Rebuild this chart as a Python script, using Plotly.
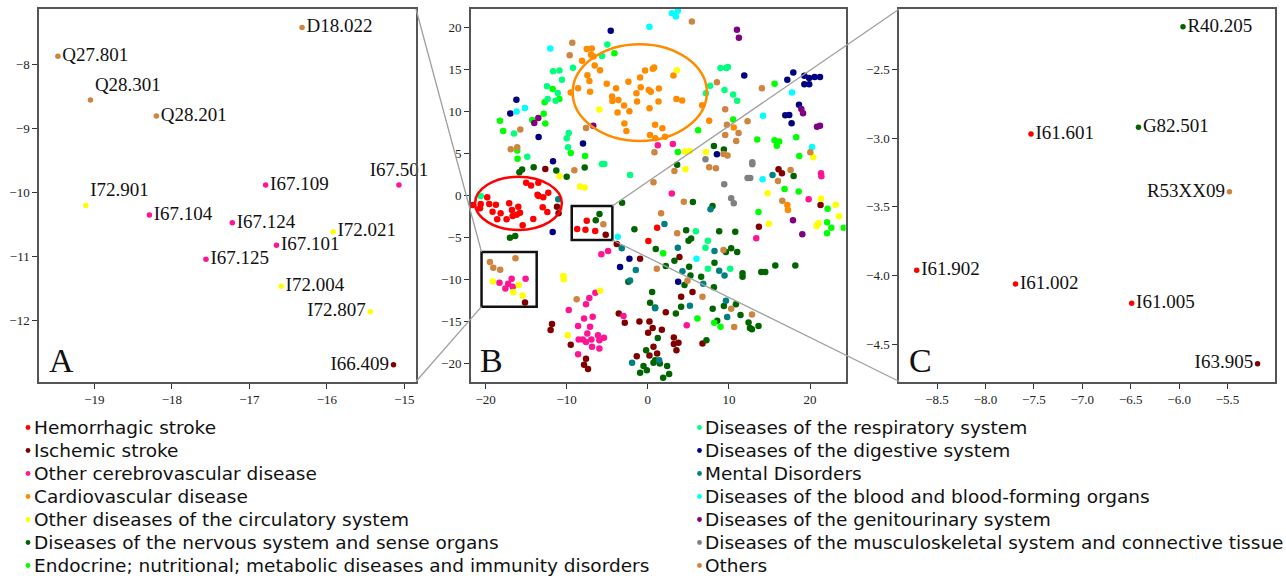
import plotly.graph_objects as go

W, H = 1286, 578

CATEGORIES = [
    "Hemorrhagic stroke",
    "Ischemic stroke",
    "Other cerebrovascular disease",
    "Cardiovascular disease",
    "Other diseases of the circulatory system",
    "Diseases of the nervous system and sense organs",
    "Endocrine; nutritional; metabolic diseases and immunity disorders",
    "Diseases of the respiratory system",
    "Diseases of the digestive system",
    "Mental Disorders",
    "Diseases of the blood and blood-forming organs",
    "Diseases of the genitourinary system",
    "Diseases of the musculoskeletal system and connective tissue",
    "Others",
]
COLORS = ["#ff0000", "#800000", "#ff1493", "#ff8c00", "#ffff00", "#006400", "#00ff00",
          "#00ff7f", "#000080", "#008080", "#00ffff", "#800080", "#808080", "#cd853f"]

# ---------------- Panel A (zoom of lower-left box) ----------------
A_CODES = ["D18.022", "Q27.801", "Q28.301", "Q28.201", "I67.109", "I67.501", "I72.901", "I67.104",
           "I67.124", "I72.021", "I67.101", "I67.125", "I72.004", "I72.807", "I66.409"]
A_X = [-16.32, -19.47, -19.05, -18.20, -16.79, -15.07, -19.11, -18.29,
       -17.22, -15.92, -16.65, -17.56, -16.59, -15.44, -15.14]
A_Y = [-7.43, -7.88, -8.56, -8.81, -9.89, -9.89, -10.21, -10.36,
       -10.48, -10.62, -10.83, -11.05, -11.47, -11.87, -12.70]
A_CAT = [13, 13, 13, 13, 2, 2, 4, 2, 2, 4, 2, 2, 4, 4, 1]
A_TEXTPOS = ["middle right", "middle right", "top right", "middle right", "middle right", "top center",
             "top right", "middle right", "middle right", "middle right", "middle right", "middle right",
             "middle right", "middle left", "middle left"]

# ---------------- Panel C (zoom of small box) ----------------
C_CODES = ["R40.205", "I61.601", "G82.501", "R53XX09", "I61.902", "I61.002", "I61.005", "I63.905"]
C_X = [-5.96, -7.53, -6.42, -5.48, -8.71, -7.69, -6.49, -5.19]
C_Y = [-2.19, -2.97, -2.92, -3.39, -3.96, -4.06, -4.20, -4.64]
C_CAT = [5, 0, 5, 13, 0, 0, 0, 1]
C_TEXTPOS = ["middle right", "middle right", "middle right", "middle left",
             "middle right", "middle right", "middle right", "middle left"]

# ---------------- Panel B (full embedding; A and C points are included too) ----------------
B_HEMORRHAGIC = [(-19.8, -0.19), (-20.6, -0.99), (-19.55, -0.99), (-18.73, -1.07), (-17.09, -0.9), (-15.97, -1.31),
                 (-20.69, -1.5), (-19.14, -1.9), (-18.15, -2.1), (-16.75, -1.7), (-16.17, -2.26), (-15.76, -2.02),
                 (-17.41, -2.81), (-18.57, -2.81), (-16.67, -2.42), (-14.12, -2.77), (-15.43, -3.52), (-13.46, -0.04),
                 (-12.89, -0.19), (-12.27, 0.36), (-12.96, -1.38), (-12.39, -1.94), (-21.6, -1.1), (-15.0, 1.55),
                 (-13.5, 1.55), (-13.6, 0.1), (-14.4, 1.2), (1.15, -3.81), (0.07, -5.4)]
B_ISCHEMIC = [(-12.64, 3.18), (-11.2, -1.31), (-11.0, -2.1), (-3.83, -5.75), (-0.95, -7.5), (-11.81, -15.27),
              (-11.98, -15.99), (-9.5, -17.74), (-7.62, -19.4), (-7.86, -20.1), (-7.37, -20.6), (-3.58, -14.0),
              (-2.84, -15.1), (-1.03, -14.95), (0.2, -14.95), (0.6, -15.75), (0.04, -16.3), (0.7, -17.98),
              (0.2, -19.0), (-1.36, -19.1), (16.12, 3.14), (16.54, 2.67), (13.7, -3.69), (21.3, -1.1),
              (5.51, -11.46), (4.11, -12.02), (2.22, -13.85), (1.73, -15.95), (3.21, -16.86), (3.78, -17.5),
              (3.21, -17.65), (3.53, -18.37), (1.15, -18.77), (6.74, -17.57), (3.9, -7.3)]
B_CEREBRO = [(1.23, 6.0), (3.09, 6.15), (21.36, 2.67), (21.4, 2.31), (2.96, 0.27), (-5.73, -6.98), (-4.9, -6.58),
             (-6.47, -11.55), (-7.21, -12.18), (-7.62, -12.9), (-9.75, -13.6), (-6.8, -14.4), (-7.86, -14.6),
             (-8.6, -15.5), (-7.12, -15.6), (-7.46, -16.4), (-8.02, -17.1), (-8.52, -17.1), (-6.14, -16.6),
             (-5.4, -16.9), (-6.96, -17.1), (-5.97, -17.18), (-6.88, -17.98), (-5.97, -18.17), (-7.62, -17.4),
             (-8.6, -18.85), (-3.0, -14.32), (13.37, -5.07), (19.83, -0.43), (4.8, -15.4)]
B_CARDIO = [(-7.53, 17.43), (-6.91, 17.5), (-8.11, 16.04), (-7.0, 16.75), (-6.71, 16.55), (-6.55, 15.48),
            (-5.89, 14.93), (-7.45, 14.33), (-7.2, 13.65), (-8.6, 12.78), (-7.12, 12.35), (-9.5, 12.27),
            (-5.06, 13.3), (-3.91, 12.78), (-4.41, 11.79), (-4.37, 11.27), (-3.63, 11.39), (-2.93, 10.71),
            (-2.39, 13.54), (-2.27, 10.04), (-3.73, 9.88), (-1.4, 12.19), (-1.32, 11.19), (-0.95, 14.05),
            (-0.87, 12.9), (-0.33, 14.88), (0.62, 15.08), (0.78, 15.24), (0.12, 12.58), (0.37, 12.35),
            (0.21, 10.4), (1.36, 12.74), (1.32, 11.19), (3.16, 14.29), (3.53, 11.51), (4.23, 11.31),
            (-2.89, 8.57), (-2.64, 7.7), (0.9, 8.42), (1.8, 8.02), (0.27, 7.23), (0.93, 6.83), (2.12, 7.0),
            (6.7, 10.76), (7.57, 8.9), (10.6, 8.1), (17.2, -1.1), (17.28, -1.7)]
B_CIRCULATORY = [(-5.97, 10.24), (-10.9, 2.3), (-8.36, 1.1), (-7.78, 0.97), (3.58, 14.93), (4.6, 5.24), (5.19, 5.3),
                 (7.16, 5.2), (4.64, 3.14), (20.4, 4.57), (14.77, 0.28), (14.94, -3.33), (21.36, -0.36),
                 (23.16, -1.07), (23.58, -2.45), (20.81, -3.6), (21.02, -3.29), (-5.89, -11.31), (-10.42, -9.56),
                 (-10.35, -9.95), (-9.88, -16.6)]
B_NERVOUS = [(-15.5, 3.1), (-15.83, 2.78), (-14.07, 3.38), (-11.28, 2.98), (-10.0, 2.26), (-7.78, 3.35), (8.15, 5.92),
             (9.38, 5.48), (3.62, 3.69), (17.98, 2.35), (-17.0, -5.0), (-16.35, -4.8), (-3.17, -0.83), (-1.65, -4.0),
             (-2.4, -10.24), (0.53, -11.46), (0.28, -12.74), (0.9, -13.29), (-0.21, -18.37), (-0.53, -20.27),
             (0.7, -19.88), (-0.12, -20.75), (-0.95, -21.07), (5.56, -0.75), (7.98, -1.23), (4.73, -4.12),
             (5.02, -5.36), (5.34, -5.08), (8.8, -4.24), (10.78, -4.28), (0.98, -6.35), (10.28, -6.26),
             (11.02, -6.7), (9.63, -6.7), (3.28, -7.74), (8.22, -7.98), (2.22, -8.37), (5.1, -8.45),
             (11.68, -9.24), (11.68, -9.64), (13.99, -9.08), (14.48, -9.08), (15.72, -8.29), (18.19, -8.29),
             (5.26, -9.48), (6.58, -9.64), (4.52, -10.63), (8.15, -10.9), (4.11, -13.2), (3.46, -14.0),
             (8.0, -13.45), (9.38, -13.13), (10.86, -12.9), (11.43, -14.2), (8.56, -14.88), (12.42, -15.07),
             (12.59, -15.75), (12.84, -15.9), (13.65, -15.5), (7.23, -17.18), (1.23, -16.94), (0.9, -19.56),
             (1.48, -19.96), (2.38, -20.27), (2.63, -21.2), (1.89, -21.66)]
B_ENDOCRINE = [(-4.12, 16.95), (-11.73, 12.7), (-10.9, 11.5), (-12.72, 11.1), (-12.84, 9.73), (-12.64, 8.57),
               (-18.23, 8.9), (-17.83, 7.7), (-16.1, 5.36), (-16.06, 4.4), (-9.5, 5.08), (-7.74, 4.73),
               (-14.25, 9.0), (6.21, 7.78), (10.53, 9.05), (3.7, 5.2), (15.63, 13.3), (13.49, 6.67), (15.63, 6.6),
               (16.2, 6.44), (15.9, 5.93), (18.3, 6.95), (18.68, 4.73), (16.86, 0.8), (18.6, 0.5), (13.65, -1.94),
               (22.17, -1.55), (22.1, -3.17), (22.63, -3.81), (22.1, -4.48), (24.15, -3.81), (1.89, -6.86),
               (6.12, -14.6), (8.19, -15.1), (8.96, -15.6)]
B_RESPIRATORY = [(-4.99, 17.98), (-5.64, 16.6), (-9.22, 15.2), (-11.69, 14.8), (-10.9, 14.9), (-10.58, 13.8),
                 (-12.43, 13.0), (-11.1, 12.2), (-12.35, 11.5), (-11.36, 11.3), (-16.5, 7.4), (-14.86, 4.64),
                 (-10.0, 6.83), (-9.75, 7.46), (-9.84, 5.76), (-5.36, 3.77), (-5.65, 3.77), (-2.19, 2.46),
                 (8.96, 15.17), (9.67, 15.17), (9.88, 15.3), (7.69, 13.06), (7.16, 12.19), (9.46, 12.58),
                 (10.53, 12.02), (11.02, 11.3), (-20.6, -0.04), (5.93, -4.24), (7.41, -5.36), (7.11, -6.19),
                 (7.41, -8.69), (10.16, -8.69)]
B_DIGESTIVE = [(-4.57, 19.6), (-16.2, 11.4), (-16.96, 9.76), (-13.46, 6.99), (-7.99, 6.19), (-11.69, 4.09),
               (11.89, 14.29), (17.2, 13.8), (17.94, 14.64), (19.3, 14.25), (19.9, 14.0), (20.57, 14.1),
               (21.23, 14.1), (19.3, 13.26), (19.9, 13.26), (18.64, 10.8), (16.95, 9.57), (17.44, 9.6),
               (17.73, 8.62), (8.52, 4.93), (-11.73, -4.32), (-2.27, -7.5), (-3.42, -8.49), (3.74, -10.24)]
B_MENTAL = [(-11.04, -0.43), (-3.21, -6.26), (-1.48, -8.85), (-2.19, -10.1), (-1.94, -19.88), (15.38, 2.46),
            (7.73, -1.62), (2.05, -3.37), (3.7, -6.19), (8.22, -6.58), (4.27, -9.0), (8.8, -8.93), (9.46, -9.48),
            (6.83, -10.47), (0.9, -13.4), (5.19, -13.1), (9.63, -12.5), (9.79, -14.44), (1.4, -19.56)]
B_BLOOD = [(0.2, 20.1), (-12.02, 17.5), (-15.15, 10.44), (-16.18, 10.0), (2.96, 21.7), (3.46, 21.3), (3.7, 22.0),
           (17.78, 12.26), (14.2, 9.49), (20.25, 5.8), (14.15, 1.95), (-3.7, -4.88), (6.0, -7.5)]
B_GENITO = [(-13.5, 9.25), (-14.0, 8.65), (-6.72, 8.33), (10.99, 19.73), (11.23, 18.77), (18.93, 10.32),
            (19.14, 9.8), (20.86, 8.21), (21.23, 8.33), (17.9, -2.93), (19.05, -4.6)]
B_MUSCULO = [(7.11, 4.33), (12.88, 3.97), (12.88, 3.74), (12.3, 2.1), (12.63, 2.1), (9.42, 1.35),
             (10.28, -0.31), (10.6, -0.9)]
B_OTHERS = [(-9.31, 18.2), (-9.63, 16.7), (-15.72, 7.86), (-16.1, 5.76), (-16.9, 5.53), (-9.06, 3.02), (-7.62, 8.06),
            (0.82, 5.16), (0.7, 1.6), (5.43, 20.7), (8.52, 13.5), (14.07, 12.78), (9.54, 10.28), (9.75, 8.42),
            (11.19, 7.46), (9.54, 7.23), (10.9, 6.51), (12.3, 8.86), (9.33, 4.96), (9.83, 4.77), (7.57, 3.38),
            (8.4, 3.26), (3.28, 2.94), (20.04, 5.16), (17.6, 3.06), (16.05, 1.75), (-8.77, -12.33), (1.11, -8.69),
            (16.58, -0.6), (4.44, -0.71), (1.64, -2.1), (3.62, -4.48), (9.33, -6.46), (4.89, -10.12),
            (6.74, -12.02), (10.28, -13.45), (12.84, -14.12), (10.65, -15.63)]
B_EXTRA = [B_HEMORRHAGIC, B_ISCHEMIC, B_CEREBRO, B_CARDIO, B_CIRCULATORY, B_NERVOUS, B_ENDOCRINE,
           B_RESPIRATORY, B_DIGESTIVE, B_MENTAL, B_BLOOD, B_GENITO, B_MUSCULO, B_OTHERS]

# zoom boxes / highlight ellipses drawn in panel B (data units)
BOX_A = (-20.5, -13.7, -13.2, -6.7)
BOX_C = (-9.38, -4.37, -5.27, -1.23)
ELLIPSE_RED = (-21.3, -10.6, -4.08, 2.26)
ELLIPSE_ORANGE = (-9.26, 7.28, 6.51, 18.02)

# axis ranges
A_XR, A_YR = [-19.71, -14.85], [-12.96, -7.14]
B_XR, B_YR = [-21.8, 24.4], [-22.1, 22.2]
C_XR, C_YR = [-8.89, -5.01], [-4.77, -2.06]

# layout geometry (pixels)
def fx(p):
    return p / W

def fy(p):
    return 1 - p / H

A_DOM = [fx(39.3), fx(416.0)]
B_DOM = [fx(471.0), fx(845.7)]
C_DOM = [fx(899.3), fx(1275.0)]
Y_DOM = [fy(381.5), fy(9.0)]

SERIF = "Liberation Serif"

fig = go.Figure()

# panel A traces
for k in range(len(CATEGORIES)):
    idx = [i for i, c in enumerate(A_CAT) if c == k]
    if not idx:
        continue
    fig.add_trace(go.Scatter(
        x=[A_X[i] for i in idx], y=[A_Y[i] for i in idx], text=[A_CODES[i] for i in idx],
        textposition=[A_TEXTPOS[i] for i in idx], mode="markers+text",
        marker=dict(color=COLORS[k], size=5.5), textfont=dict(family=SERIF, size=19, color="#111"),
        xaxis="x", yaxis="y", showlegend=False, name=CATEGORIES[k], cliponaxis=False))

# panel B traces
for k in range(len(CATEGORIES)):
    xs = [A_X[i] for i, c in enumerate(A_CAT) if c == k] + [C_X[i] for i, c in enumerate(C_CAT) if c == k]
    ys = [A_Y[i] for i, c in enumerate(A_CAT) if c == k] + [C_Y[i] for i, c in enumerate(C_CAT) if c == k]
    xs += [p[0] for p in B_EXTRA[k]]
    ys += [p[1] for p in B_EXTRA[k]]
    fig.add_trace(go.Scatter(
        x=xs, y=ys, mode="markers", marker=dict(color=COLORS[k], size=6.5),
        xaxis="x2", yaxis="y2", showlegend=False, name=CATEGORIES[k]))

# panel C traces
for k in range(len(CATEGORIES)):
    idx = [i for i, c in enumerate(C_CAT) if c == k]
    if not idx:
        continue
    fig.add_trace(go.Scatter(
        x=[C_X[i] for i in idx], y=[C_Y[i] for i in idx], text=[C_CODES[i] for i in idx],
        textposition=[C_TEXTPOS[i] for i in idx], mode="markers+text",
        marker=dict(color=COLORS[k], size=5.5), textfont=dict(family=SERIF, size=19, color="#111"),
        xaxis="x3", yaxis="y3", showlegend=False, name=CATEGORIES[k], cliponaxis=False))

axis_common = dict(showline=True, mirror=True, linecolor="#555555", linewidth=2, ticks="outside",
                   ticklen=5, tickwidth=1, tickcolor="#333333", showgrid=False, zeroline=False,
                   tickfont=dict(family=SERIF, size=13, color="#222222"))

fig.update_layout(
    width=W, height=H, autosize=False, margin=dict(l=0, r=0, t=0, b=0),
    paper_bgcolor="white", plot_bgcolor="white", showlegend=False,
    xaxis=dict(domain=A_DOM, range=A_XR, tickvals=[-19, -18, -17, -16, -15], anchor="y", **axis_common),
    yaxis=dict(domain=Y_DOM, range=A_YR, tickvals=[-8, -9, -10, -11, -12], anchor="x", **axis_common),
    xaxis2=dict(domain=B_DOM, range=B_XR, tickvals=[-20, -10, 0, 10, 20], anchor="y2", **axis_common),
    yaxis2=dict(domain=Y_DOM, range=B_YR, tickvals=[-20, -15, -10, -5, 0, 5, 10, 15, 20], anchor="x2", **axis_common),
    xaxis3=dict(domain=C_DOM, range=C_XR, tickvals=[-8.5, -8.0, -7.5, -7.0, -6.5, -6.0, -5.5],
                tickformat=".1f", anchor="y3", **axis_common),
    yaxis3=dict(domain=Y_DOM, range=C_YR, tickvals=[-2.5, -3.0, -3.5, -4.0, -4.5],
                tickformat=".1f", anchor="x3", **axis_common),
)

shapes = []
# ellipses and boxes in panel B
shapes.append(dict(type="circle", xref="x2", yref="y2", x0=ELLIPSE_RED[0], x1=ELLIPSE_RED[1],
                   y0=ELLIPSE_RED[2], y1=ELLIPSE_RED[3], line=dict(color="#ff0000", width=2.5)))
shapes.append(dict(type="circle", xref="x2", yref="y2", x0=ELLIPSE_ORANGE[0], x1=ELLIPSE_ORANGE[1],
                   y0=ELLIPSE_ORANGE[2], y1=ELLIPSE_ORANGE[3], line=dict(color="#ff8c00", width=2.5)))
for bx in (BOX_A, BOX_C):
    shapes.append(dict(type="rect", xref="x2", yref="y2", x0=bx[0], x1=bx[1], y0=bx[2], y1=bx[3],
                       line=dict(color="#111111", width=2.5)))

def b_paper(x, y):
    px = B_DOM[0] + (x - B_XR[0]) / (B_XR[1] - B_XR[0]) * (B_DOM[1] - B_DOM[0])
    py = Y_DOM[0] + (y - B_YR[0]) / (B_YR[1] - B_YR[0]) * (Y_DOM[1] - Y_DOM[0])
    return px, py

connectors = [
    ((A_DOM[1], Y_DOM[1]), b_paper(BOX_A[0], BOX_A[3])),
    ((A_DOM[1], Y_DOM[0]), b_paper(BOX_A[0], BOX_A[2])),
    (b_paper(BOX_C[1], BOX_C[3]), (C_DOM[0], Y_DOM[1])),
    (b_paper(BOX_C[1], BOX_C[2]), (C_DOM[0], Y_DOM[0])),
]
for p0, p1 in connectors:
    shapes.append(dict(type="line", xref="paper", yref="paper", x0=p0[0], y0=p0[1], x1=p1[0], y1=p1[1],
                       line=dict(color="#a0a0a0", width=1.3), layer="above"))

# legend (two columns)
LEG_ROWS = [427.5 + 23.0 * i for i in range(7)]
LEG_COLS = [(28.0, 32.5), (699.5, 704.0)]
annotations = []
for k, name in enumerate(CATEGORIES):
    col = k // 7
    row = k % 7
    dot_x, txt_x = LEG_COLS[col]
    yy = fy(LEG_ROWS[row])
    shapes.append(dict(type="circle", xref="paper", yref="paper", xsizemode="pixel", ysizemode="pixel",
                       xanchor=fx(dot_x), yanchor=yy, x0=-2.4, x1=2.4, y0=-2.4, y1=2.4,
                       fillcolor=COLORS[k], line=dict(width=0)))
    annotations.append(dict(text=name, xref="paper", yref="paper", x=fx(txt_x), y=yy, xanchor="left",
                            yanchor="middle", showarrow=False, borderpad=0,
                            font=dict(family="DejaVu Sans", size=18.5, color="#111111")))

# panel letters
for letter, ax in (("A", "x"), ("B", "x2"), ("C", "x3")):
    ya = {"x": "y", "x2": "y2", "x3": "y3"}[ax]
    annotations.append(dict(text=letter, xref=ax + " domain", yref=ya + " domain", x=0.02, y=0.0,
                            xanchor="left", yanchor="bottom", showarrow=False,
                            font=dict(family=SERIF, size=34, color="#111111")))

fig.update_layout(shapes=shapes, annotations=annotations)
fig.write_html("out.html", config={"displayModeBar": False},
               post_script="document.body.style.margin='0px';document.body.style.overflow='hidden';")
